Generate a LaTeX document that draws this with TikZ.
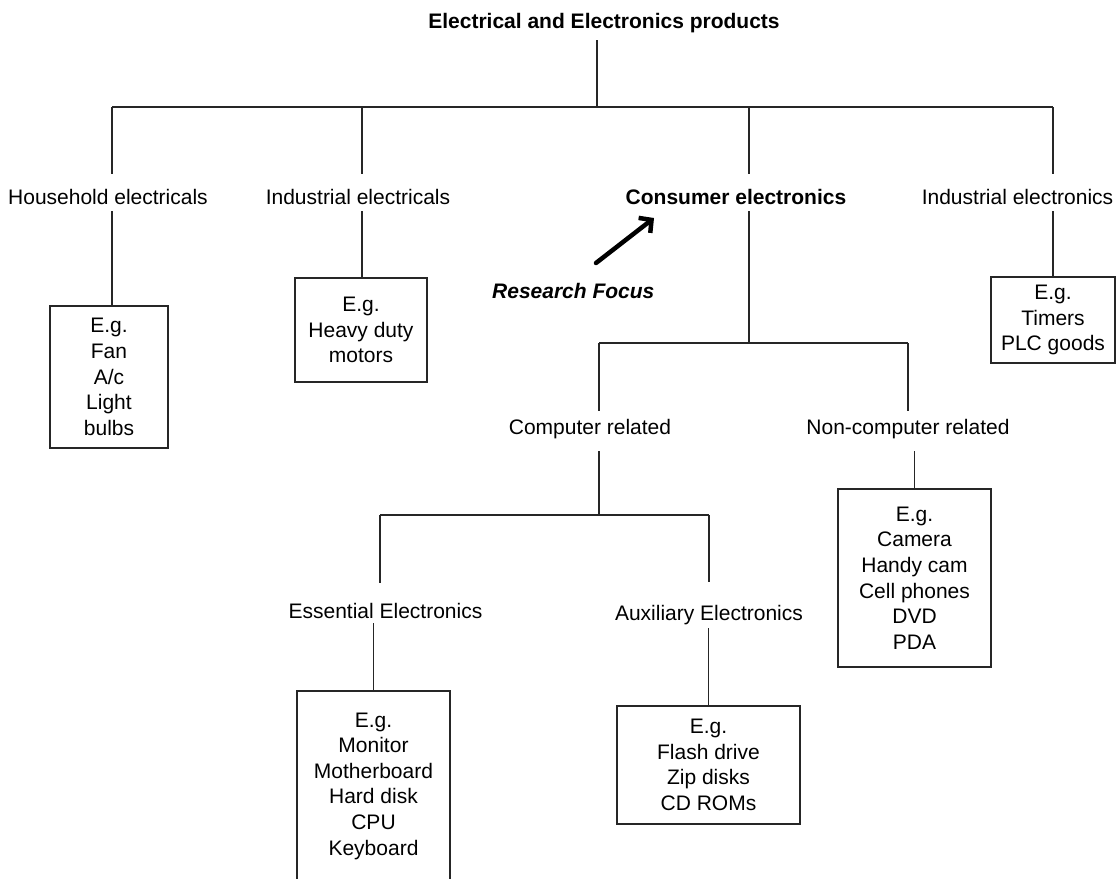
\documentclass[tikz,border=0pt]{standalone}
\usepackage{fontspec}
\setmainfont{Liberation Sans}
\usetikzlibrary{arrows.meta}
\begin{document}
\begin{tikzpicture}[x=1pt,y=-1pt,
  conn/.style={draw=black!85,line width=1.1pt},
  lbl/.style={font=\fontsize{21}{25.6}\selectfont,inner sep=0pt,
              text height=15pt,text depth=0pt,anchor=base},
  boldlbl/.style={lbl,font=\fontsize{21}{25.6}\selectfont\bfseries},
  examplebox/.style={draw=black!85,line width=1.1pt,rectangle,align=center,
              font=\fontsize{21}{25.6}\selectfont,inner sep=0pt},
  focus/.style={line width=4.5pt,line cap=round,
              -{Straight Barb[length=9pt,width=19pt]}}]
\useasboundingbox (0,0) rectangle (1116,878);
\clip (0,0) rectangle (1116,878);

% junction points of the tree
\coordinate (b0) at (597,107);
\coordinate (b1) at (112,107);
\coordinate (b2) at (362,107);
\coordinate (b3) at (749,107);
\coordinate (b4) at (1053,107);
\coordinate (c0) at (749,343);
\coordinate (c1) at (599,343);
\coordinate (c2) at (908,343);
\coordinate (d0) at (599,515);
\coordinate (d1) at (380,515);
\coordinate (d2) at (709,515);
\coordinate (rftail) at (596,263);
\coordinate (rfhead) at (654,218);

% category labels
\node[boldlbl] (title) at (604,28) {Electrical and Electronics products};
\node[lbl] (hh) at (108,204) {Household electricals};
\node[lbl] (iel) at (358,204) {Industrial electricals};
\node[boldlbl] (cons) at (736,204) {Consumer electronics};
\node[lbl] (iee) at (1017.5,204) {Industrial electronics};
\node[lbl] (comp) at (590,434) {Computer related};
\node[lbl] (nc) at (908,434) {Non-computer related};
\node[lbl] (ess) at (385.5,618) {Essential Electronics};
\node[lbl] (aux) at (709,620) {Auxiliary Electronics};
\node[lbl,anchor=base west,font=\fontsize{21}{25.6}\selectfont\bfseries\itshape]
  (rf) at (492,298) {Research Focus};

% example boxes
\node[examplebox,minimum width=118pt,minimum height=142pt] (hhbox) at (109,377)
  {E.g.\\Fan\\A/c\\Light\\bulbs};
\node[examplebox,minimum width=132pt,minimum height=104pt] (ielbox) at (361,330)
  {E.g.\\Heavy duty\\motors};
\node[examplebox,minimum width=124pt,minimum height=86pt] (ieebox) at (1053,320)
  {E.g.\\Timers\\PLC goods};
\node[examplebox,minimum width=153pt,minimum height=178pt] (ncbox) at (914.5,578)
  {E.g.\\Camera\\Handy cam\\Cell phones\\DVD\\PDA};
\node[examplebox,minimum width=183pt,minimum height=118pt] (auxbox) at (708.5,765)
  {E.g.\\Flash drive\\Zip disks\\CD ROMs};
\node[examplebox,minimum width=153pt,minimum height=190pt] (essbox) at (373.5,786)
  {E.g.\\Monitor\\Motherboard\\Hard disk\\CPU\\Keyboard};

% top level
\draw[conn,shorten <=12pt] (title.south -| b0) -- (b0);
\draw[conn] (b1) -- (b4);
\draw[conn,shorten >=15pt] (b1) -- (b1 |- hh.north);
\draw[conn,shorten >=15pt] (b2) -- (b2 |- iel.north);
\draw[conn,shorten >=15pt] (b3) -- (b3 |- cons.north);
\draw[conn,shorten >=15pt] (b4) -- (b4 |- iee.north);
\draw[conn,shorten <=7pt] (b1 |- hh.south) -- (b1 |- hhbox.north);
\draw[conn,shorten <=7pt] (b2 |- iel.south) -- (b2 |- ielbox.north);
\draw[conn,shorten <=7pt] (b4 |- iee.south) -- (b4 |- ieebox.north);

% consumer electronics branch
\draw[conn,shorten <=7pt] (b3 |- cons.south) -- (c0);
\draw[conn] (c1) -- (c2);
\draw[conn,shorten >=8pt] (c1) -- (c1 |- comp.north);
\draw[conn,shorten >=8pt] (c2) -- (c2 |- nc.north);
\draw[conn,shorten <=17pt] (ncbox.north |- nc.south) -- (ncbox.north);
\draw[conn,shorten <=17pt] (c1 |- comp.south) -- (d0);
\draw[conn] (d1) -- (d2);
\draw[conn,shorten >=20pt] (d1) -- (d1 |- ess.north);
\draw[conn,shorten >=23pt] (d2) -- (d2 |- aux.north);
\draw[conn,shorten <=5pt] (essbox.north |- ess.south) -- (essbox.north);
\draw[conn,shorten <=8pt] (auxbox.north |- aux.south) -- (auxbox.north);

% research focus pointer
\draw[focus] (rftail) -- (rfhead);
\end{tikzpicture}
\end{document}
